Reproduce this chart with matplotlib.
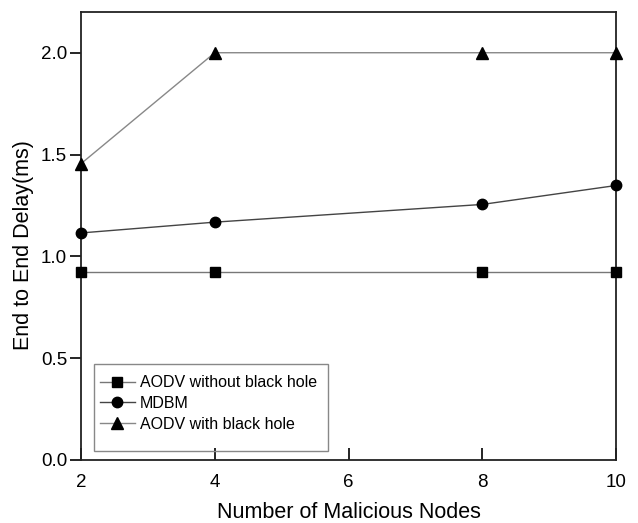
import matplotlib
matplotlib.use("Agg")
import matplotlib.pyplot as plt
from matplotlib.patches import Rectangle

plt.rcParams['font.family'] = ['Liberation Sans', 'DejaVu Sans']

x = [2, 4, 8, 10]
aodv_no_bh = [0.925, 0.925, 0.925, 0.925]
mdbm = [1.115, 1.168, 1.255, 1.348]
aodv_bh = [1.455, 2.0, 2.0, 2.0]
labels = ["AODV without black hole", "MDBM", "AODV with black hole"]

fig = plt.figure(figsize=(6.38, 5.23), dpi=100)
ax = fig.add_axes([81/638, 1-460/523, (616-81)/638, (460-12)/523])

ax.plot(x, aodv_no_bh, color='#777777', lw=1.0, marker='s', ms=7, mfc='black', mec='black', label=labels[0], clip_on=False, zorder=3)
ax.plot(x, mdbm, color='#444444', lw=1.0, marker='o', ms=7.5, mfc='black', mec='black', label=labels[1], clip_on=False, zorder=3)
ax.plot(x, aodv_bh, color='#888888', lw=1.0, marker='^', ms=8, mfc='black', mec='black', label=labels[2], clip_on=False, zorder=3)

ax.set_xlim(2, 10)
ax.set_ylim(0, 2.2)
ax.set_xticks([2, 4, 6, 8, 10])
ax.set_yticks([0.0, 0.5, 1.0, 1.5, 2.0])
ax.set_yticklabels(["0.0", "0.5", "1.0", "1.5", "2.0"])
ax.tick_params(axis='x', direction='in', length=9, width=1.2, labelsize=13.5, pad=10)
ax.tick_params(axis='y', direction='out', length=8, width=1.2, labelsize=13.5, pad=2)
for s in ax.spines.values():
    s.set_linewidth(1.3)
    s.set_color('#222222')

ax.set_xlabel("Number of Malicious Nodes", fontsize=15.5, labelpad=8)
ax.set_ylabel("End to End Delay(ms)", fontsize=15.5)
ax.yaxis.set_label_coords(-0.088, 0.48)

leg = ax.legend(loc='upper left', bbox_to_anchor=(0.035, 0.189), fontsize=11.5,
                frameon=False, handlelength=2.2, borderpad=0, labelspacing=0.35,
                borderaxespad=0, handletextpad=0.3, markerscale=1.0)
ax.add_patch(Rectangle((13/535, 9/448), 234/535, 87/448, transform=ax.transAxes,
                       fill=False, edgecolor='#888888', lw=1.0, zorder=2))
fig.savefig("out.png", dpi=100)
